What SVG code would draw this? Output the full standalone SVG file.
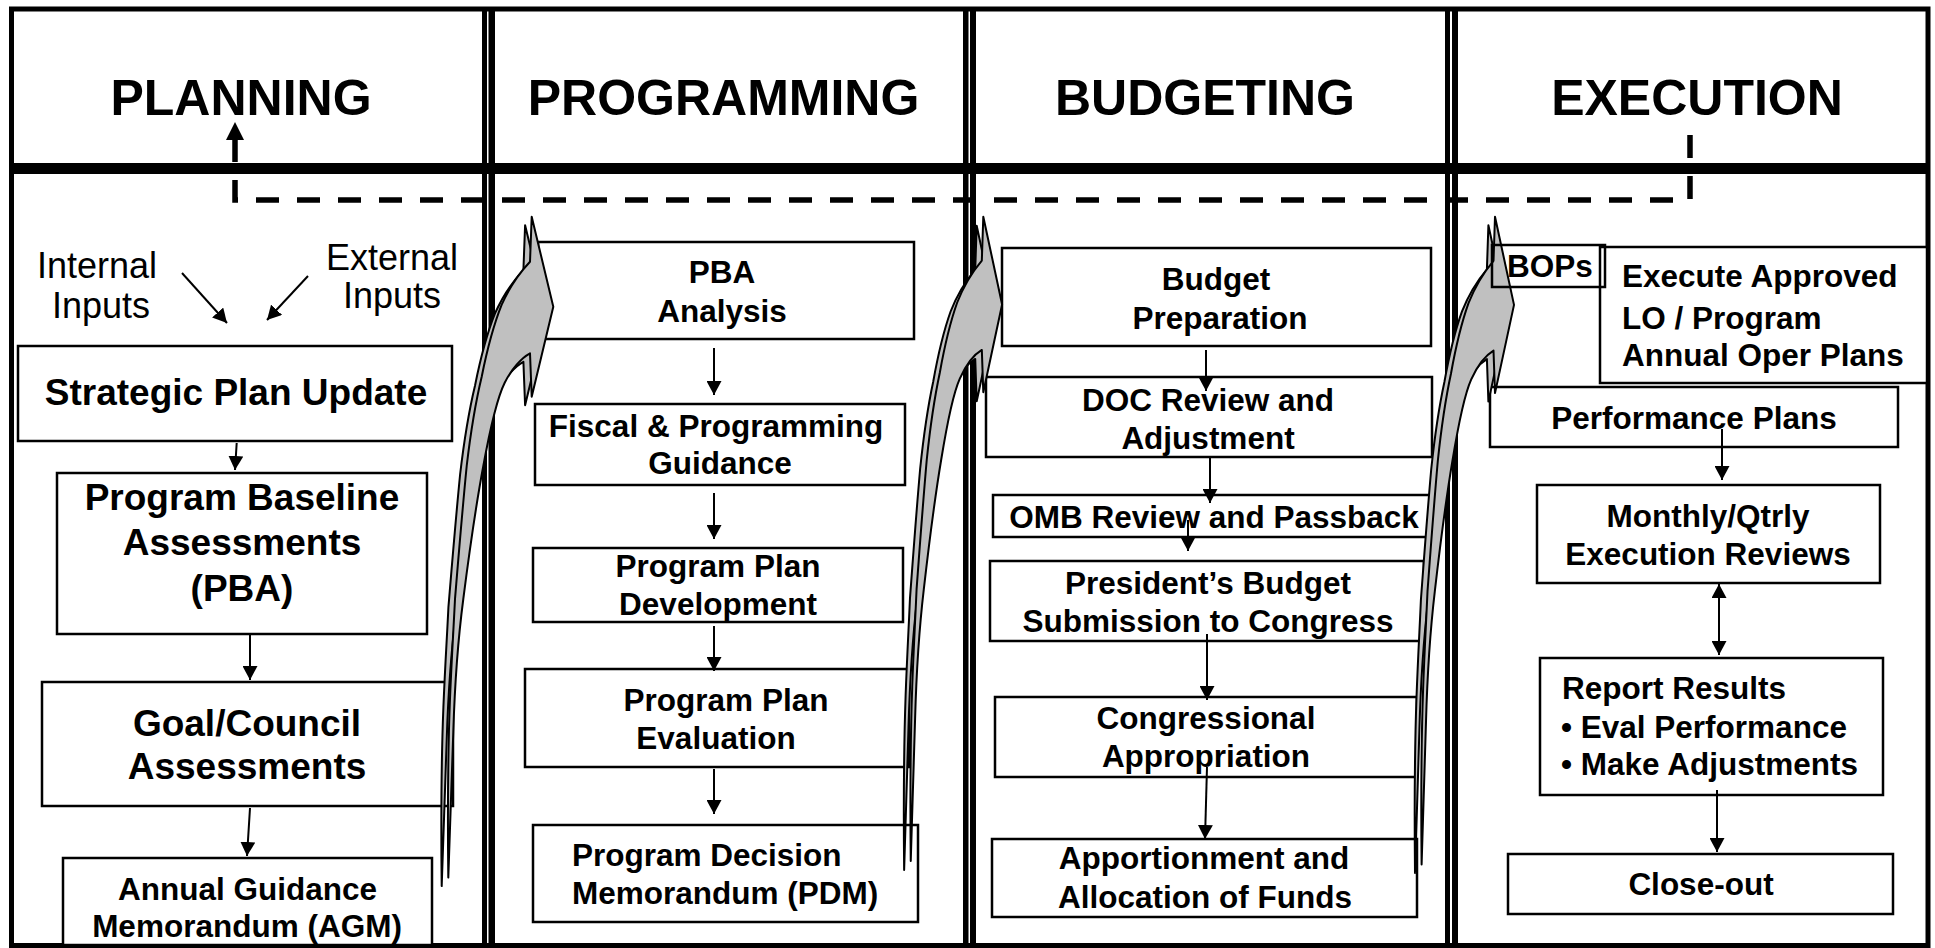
<svg xmlns="http://www.w3.org/2000/svg" xmlns:xlink="http://www.w3.org/1999/xlink" width="1935" height="948" viewBox="0 0 1935 948">
  <style>
    text { font-family: "Liberation Sans", Arial, Helvetica, sans-serif; fill: #000; }
    .hdr { font-size: 50px; font-weight: bold; text-anchor: middle; }
    .t37 { font-size: 37px; font-weight: bold; }
    .t31 { font-size: 31.5px; font-weight: bold; }
    .reg { font-size: 36px; font-weight: normal; text-anchor: middle; }
    .c { text-anchor: middle; }
    .box { fill: #fff; stroke: #000; stroke-width: 2.5; }
    .rule { fill: #000; }
    .link { fill: none; stroke: #000; stroke-width: 2; marker-end: url(#ah); }
    .both { marker-start: url(#ah); }
    .feedback { fill: none; stroke: #000; stroke-width: 5.5; stroke-dasharray: 23 18; marker-end: url(#ah-big); }
    .band { fill: #c0c0c0; stroke: #000; stroke-width: 2; stroke-linejoin: round; }
  </style>
  <defs>
    <marker id="ah" markerUnits="userSpaceOnUse" markerWidth="15" markerHeight="15" refX="14" refY="7.5" orient="auto-start-reverse">
      <path d="M0,0 L14,7.5 L0,15 z" fill="#000"/>
    </marker>
    <marker id="ah-big" markerUnits="userSpaceOnUse" markerWidth="19" markerHeight="19" refX="0" refY="9" orient="auto">
      <path d="M0,0 L18,9 L0,18 z" fill="#000"/>
    </marker>
    <!-- curved hand-over arrow, origin at the upper point of the head -->
    <path id="curve-arrow" vector-effect="non-scaling-stroke"
      d="M -1.7 45 L 0 0 L 21.6 90 L 0 180 L -1.7 136.6
         C -10 141 -20 152 -27 166 C -35 182 -42 214 -48.4 249.3
         C -56 290 -63 340 -68.4 382.3 C -74 425 -77 470 -78.4 515
         C -80 560 -82 610 -83.4 660.9
         C -84 610 -84 540 -81.7 481.8 C -80 440 -78 410 -76.7 382.3
         C -74 350 -70 300 -65 249.3 C -61 215 -56 185 -50 160
         C -45 135 -38 108 -30 88 C -23 72 -13 57 -1.7 45 Z"/>
  </defs>

  <!-- table frame -->
  <g id="frame">
    <rect x="11.5" y="9" width="1916.5" height="936.5" fill="#fff" stroke="#000" stroke-width="5"/>
    <rect class="rule" x="11" y="163" width="1919" height="11"/>
    <rect class="rule" x="482" y="9" width="5" height="937"/>
    <rect class="rule" x="488.5" y="9" width="6.5" height="937"/>
    <rect class="rule" x="963" y="9" width="5.5" height="937"/>
    <rect class="rule" x="970" y="9" width="6" height="937"/>
    <rect class="rule" x="1445" y="9" width="5" height="937"/>
    <rect class="rule" x="1452" y="9" width="6" height="937"/>
  </g>

  <!-- phase headings -->
  <g id="phase-planning"><text class="hdr" x="241" y="114.5">PLANNING</text></g>
  <g id="phase-programming"><text class="hdr" x="723.5" y="114.5">PROGRAMMING</text></g>
  <g id="phase-budgeting"><text class="hdr" x="1205" y="114.5">BUDGETING</text></g>
  <g id="phase-execution"><text class="hdr" x="1697" y="114.5">EXECUTION</text></g>

  <!-- planning -->
  <g id="internal-inputs">
    <text class="reg" x="97" y="278">Internal</text>
    <text class="reg" x="101" y="318">Inputs</text>
  </g>
  <g id="external-inputs">
    <text class="reg" x="392" y="270">External</text>
    <text class="reg" x="392" y="308">Inputs</text>
  </g>
  <g id="strategic-plan-update">
    <rect class="box" x="18" y="346" width="434" height="95"/>
    <text class="t37 c" x="236" y="405">Strategic Plan Update</text>
  </g>
  <g id="program-baseline-assessments">
    <rect class="box" x="57" y="473" width="370" height="161"/>
    <text class="t37 c" x="242" y="510">Program Baseline</text>
    <text class="t37 c" x="242" y="555">Assessments</text>
    <text class="t37 c" x="242" y="601">(PBA)</text>
  </g>
  <g id="goal-council-assessments">
    <rect class="box" x="42" y="682" width="411" height="124"/>
    <text class="t37 c" x="247" y="736">Goal/Council</text>
    <text class="t37 c" x="247" y="779">Assessments</text>
  </g>
  <g id="annual-guidance-memorandum">
    <rect class="box" x="63" y="858" width="369" height="87"/>
    <text class="t31 c" x="247.5" y="900">Annual Guidance</text>
    <text class="t31 c" x="247" y="937">Memorandum (AGM)</text>
  </g>

  <!-- programming -->
  <g id="pba-analysis">
    <rect class="box" x="538" y="242" width="376" height="97"/>
    <text class="t31 c" x="722" y="283">PBA</text>
    <text class="t31 c" x="722" y="322">Analysis</text>
  </g>
  <g id="fiscal-programming-guidance">
    <rect class="box" x="535" y="404" width="370" height="81"/>
    <text class="t31 c" x="716" y="437">Fiscal &amp; Programming</text>
    <text class="t31 c" x="720" y="474">Guidance</text>
  </g>
  <g id="program-plan-development">
    <rect class="box" x="533" y="548" width="370" height="74"/>
    <text class="t31 c" x="718" y="577">Program Plan</text>
    <text class="t31 c" x="718" y="615">Development</text>
  </g>
  <g id="program-plan-evaluation">
    <rect class="box" x="525" y="669" width="384" height="98"/>
    <text class="t31 c" x="726" y="711">Program Plan</text>
    <text class="t31 c" x="716" y="749">Evaluation</text>
  </g>
  <g id="program-decision-memorandum">
    <rect class="box" x="533" y="825" width="385" height="97"/>
    <text class="t31" x="572" y="866">Program Decision</text>
    <text class="t31" x="572" y="904">Memorandum (PDM)</text>
  </g>

  <!-- budgeting -->
  <g id="budget-preparation">
    <rect class="box" x="1002" y="248" width="429" height="98"/>
    <text class="t31 c" x="1216" y="290">Budget</text>
    <text class="t31 c" x="1220" y="329">Preparation</text>
  </g>
  <g id="doc-review">
    <rect class="box" x="986" y="377" width="446" height="80"/>
    <text class="t31 c" x="1208" y="411">DOC Review and</text>
    <text class="t31 c" x="1208" y="449">Adjustment</text>
  </g>
  <g id="omb-review">
    <rect class="box" x="993" y="495" width="440" height="42"/>
    <text class="t31 c" x="1214" y="528">OMB Review and Passback</text>
  </g>
  <g id="presidents-budget">
    <rect class="box" x="990" y="561" width="434" height="80"/>
    <text class="t31 c" x="1208" y="594">President’s Budget</text>
    <text class="t31 c" x="1208" y="632">Submission to Congress</text>
  </g>
  <g id="congressional-appropriation">
    <rect class="box" x="995" y="697" width="422" height="80"/>
    <text class="t31 c" x="1206" y="729">Congressional</text>
    <text class="t31 c" x="1206" y="767">Appropriation</text>
  </g>
  <g id="apportionment">
    <rect class="box" x="992" y="839" width="425" height="78"/>
    <text class="t31 c" x="1204" y="869">Apportionment and</text>
    <text class="t31 c" x="1205" y="908">Allocation of Funds</text>
  </g>

  <!-- execution -->
  <g id="execute-approved">
    <rect class="box" x="1600" y="247" width="327" height="136"/>
    <text class="t31" x="1622" y="287">Execute Approved</text>
    <text class="t31" x="1622" y="329">LO / Program</text>
    <text class="t31" x="1622" y="366">Annual Oper Plans</text>
  </g>
  <g id="performance-plans">
    <rect class="box" x="1490" y="387" width="408" height="60"/>
    <text class="t31 c" x="1694" y="429">Performance Plans</text>
  </g>
  <g id="execution-reviews">
    <rect class="box" x="1537" y="485" width="343" height="98"/>
    <text class="t31 c" x="1708" y="527">Monthly/Qtrly</text>
    <text class="t31 c" x="1708" y="565">Execution Reviews</text>
  </g>
  <g id="report-results">
    <rect class="box" x="1540" y="658" width="343" height="137"/>
    <text class="t31" x="1562" y="699">Report Results</text>
    <text class="t31" x="1561" y="738">• Eval Performance</text>
    <text class="t31" x="1561" y="775">• Make Adjustments</text>
  </g>
  <g id="close-out">
    <rect class="box" x="1508" y="854" width="385" height="60"/>
    <text class="t31 c" x="1701" y="895">Close-out</text>
  </g>

  <!-- connectors -->
  <g id="connectors">
    <g id="phase-handovers">
      <use xlink:href="#curve-arrow" href="#curve-arrow" class="band" transform="translate(525.1,225.2)"/>
      <use xlink:href="#curve-arrow" href="#curve-arrow" class="band" transform="translate(531.7,216.7)"/>
      <use xlink:href="#curve-arrow" href="#curve-arrow" class="band" transform="translate(976.7,225.7) scale(0.87,0.975)"/>
      <use xlink:href="#curve-arrow" href="#curve-arrow" class="band" transform="translate(983.3,216.7) scale(0.87,0.975)"/>
      <use xlink:href="#curve-arrow" href="#curve-arrow" class="band" transform="translate(1488.4,225.2) scale(0.88,0.98)"/>
      <use xlink:href="#curve-arrow" href="#curve-arrow" class="band" transform="translate(1495,216.7) scale(0.88,0.98)"/>
    </g>
    <path class="feedback" d="M1690 135 V200 H235 V140"/>
    <line class="link" x1="182" y1="273" x2="227" y2="323"/>
    <line class="link" x1="308" y1="276" x2="267" y2="320"/>
    <line class="link" x1="236.7" y1="443" x2="235" y2="470"/>
    <line class="link" x1="250" y1="634" x2="250" y2="680"/>
    <line class="link" x1="250" y1="808" x2="247" y2="856"/>
    <line class="link" x1="714" y1="348" x2="714" y2="395"/>
    <line class="link" x1="714" y1="493" x2="714" y2="539"/>
    <line class="link" x1="714" y1="626" x2="714" y2="671"/>
    <line class="link" x1="714" y1="769" x2="714" y2="814"/>
    <line class="link" x1="1206" y1="350" x2="1206" y2="391"/>
    <line class="link" x1="1210" y1="458" x2="1210" y2="503"/>
    <line class="link" x1="1188" y1="520" x2="1188" y2="551"/>
    <line class="link" x1="1207" y1="634" x2="1207" y2="700"/>
    <line class="link" x1="1207" y1="767" x2="1205" y2="839"/>
    <line class="link" x1="1722" y1="429" x2="1722" y2="480"/>
    <line class="link both" x1="1719" y1="584" x2="1719" y2="655"/>
    <line class="link" x1="1717" y1="790" x2="1717" y2="852"/>
  </g>

  <!-- BOPs label box sits over the hand-over arrow -->
  <g id="bops">
    <rect class="box" x="1492" y="245" width="113" height="42" fill="none" style="fill:none"/>
    <text class="t31" x="1507" y="277">BOPs</text>
  </g>
</svg>
